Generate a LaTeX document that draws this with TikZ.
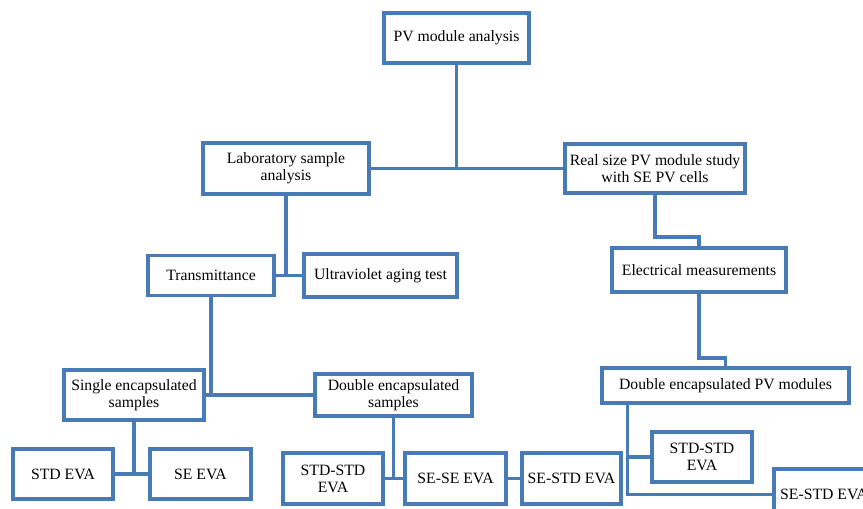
\documentclass[tikz,border=0pt]{standalone}
\usepackage{fontspec}
\setmainfont{Liberation Serif}
\definecolor{boxblue}{RGB}{72,122,182}

\begin{document}
\begin{tikzpicture}[x=0.75pt,y=-0.75pt,line width=2.5pt,font=\fontsize{11.8}{12.8}\selectfont,
  box/.style={draw=boxblue,fill=white,align=center,inner sep=1pt},
  link/.style={draw=boxblue}]
\clip (0,0) rectangle (863,509);
\node[box,minimum width=108.75pt,minimum height=37.5pt] (top) at (456.5,38) {PV module analysis};
\node[box,minimum width=124.5pt,minimum height=38.25pt] (lab) at (286,168.5) {Laboratory sample\\analysis};
\node[box,minimum width=135pt,minimum height=36.75pt] (real) at (655,168.5) {Real size PV module study\\with SE PV cells};
\node[box,minimum width=94.5pt,minimum height=30pt] (trans) at (211,275.5) {Transmittance};
\node[box,minimum width=114.75pt,minimum height=32.25pt] (uv) at (380.5,275.5) {Ultraviolet aging test};
\node[box,minimum width=130.5pt,minimum height=33pt] (elec) at (699,270) {Electrical measurements};
\node[box,minimum width=105pt,minimum height=37.5pt] (single) at (134,395) {Single encapsulated\\samples};
\node[box,minimum width=117.75pt,minimum height=31.5pt] (double) at (393.5,395) {Double encapsulated\\samples};
\node[box,minimum width=185.25pt,minimum height=26.25pt] (dblpv) at (725.5,385.5) {Double encapsulated PV modules};
\node[box,minimum width=75pt,minimum height=37.5pt] (stdeva) at (63,474) {STD EVA};
\node[box,minimum width=75.75pt,minimum height=37.5pt] (seeva) at (200.5,474) {SE EVA};
\node[box,minimum width=75pt,minimum height=38.25pt] (stdstd) at (333,478.5) {STD-STD\\EVA};
\node[box,minimum width=75.75pt,minimum height=38.25pt] (sese) at (455.5,478.5) {SE-SE EVA};
\node[box,minimum width=74.25pt,minimum height=38.25pt] (sestd) at (571.5,478.5) {SE-STD EVA};
\node[box,minimum width=75pt,minimum height=37.5pt] (stdstdpv) at (702,457) {STD-STD\\EVA};
\node[box,minimum width=75pt,minimum height=38.25pt] (sestdpv) at (824,494.5) {SE-STD EVA};
\coordinate (k1) at (655,237);
\coordinate (k2) at (699,358);
\coordinate (dv) at (627.5,403);
\draw[link] (lab.east) -- (real.west);
\draw[link] (top.south) -- (top.south |- lab.east);
\draw[link] (trans.east) -- (uv.west);
\draw[link] (lab.south) -- (lab.south |- trans.east);
\draw[link] (single.east) -- (double.west);
\draw[link] (trans.south) -- (trans.south |- single.east);
\draw[link] (stdeva.east) -- (seeva.west);
\draw[link] (single.south) -- (single.south |- stdeva.east);
\draw[link] (stdstd.east) -- (sese.west);
\draw[link] (double.south) -- (double.south |- stdstd.east);
\draw[link] (sese.east) -- (sestd.west);
\draw[link] (real.south) -- (k1) -| (elec.north);
\draw[link] (elec.south) -- (k2) -| (dblpv.north);
\draw[link] (dv) |- (sestdpv.west);
\draw[link] (dv |- stdstdpv.west) -- (stdstdpv.west);
\end{tikzpicture}
\end{document}
